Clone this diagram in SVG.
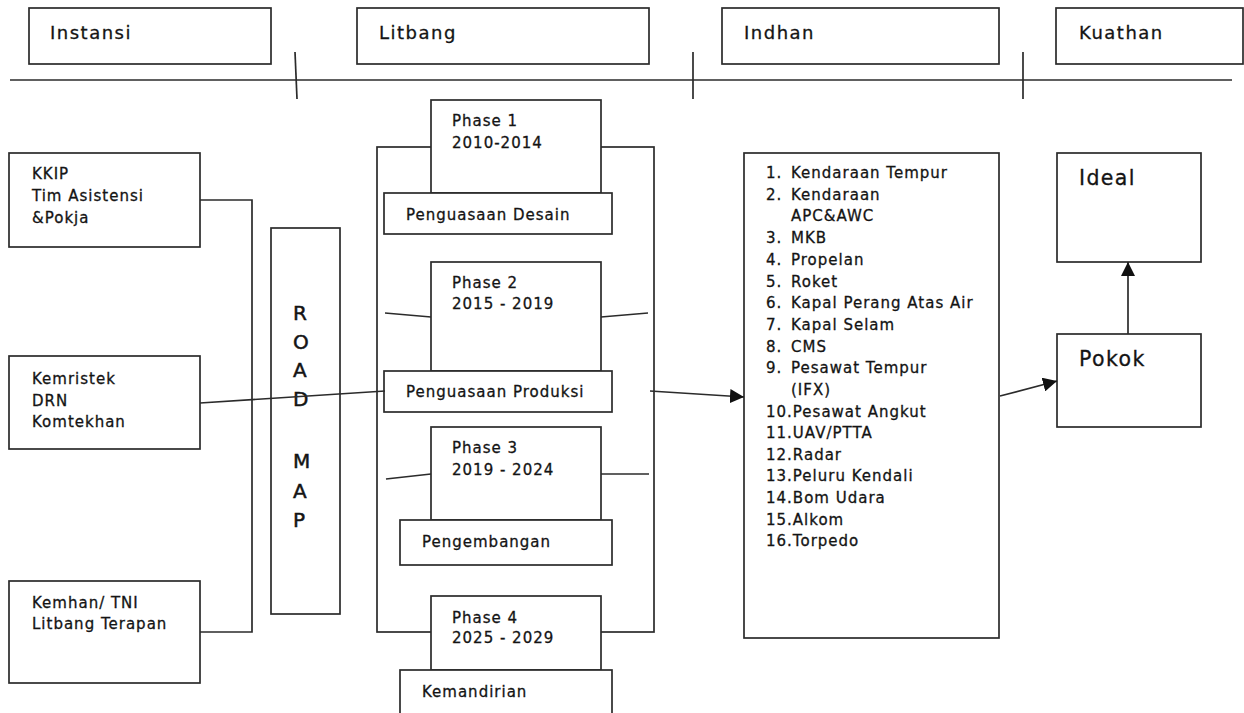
<svg xmlns="http://www.w3.org/2000/svg" width="1244" height="713" viewBox="0 0 1244 713">
<style>
.box{fill:#fff;stroke:#2b2b2b;stroke-width:1.7}
.frame{fill:none;stroke:#2b2b2b;stroke-width:1.7}
.ln{fill:none;stroke:#2b2b2b;stroke-width:1.7}
text{font-family:"DejaVu Sans","Liberation Sans",sans-serif;fill:#141414;stroke:#141414;stroke-width:0.3}
.hd{font-size:18px;letter-spacing:1.5px}
.t{font-size:15px;letter-spacing:1px}
.rm{font-size:20px;letter-spacing:0;stroke-width:0.5}
.big{font-size:20.5px;letter-spacing:1.4px}
</style>
<defs>
<marker id="ah" markerUnits="userSpaceOnUse" markerWidth="15" markerHeight="14" refX="14" refY="7" orient="auto">
<path d="M0,0 L14,7 L0,14 z" fill="#111"/>
</marker>
</defs>
<rect width="1244" height="713" fill="#fff"/>

<g id="timeline">
<line class="ln" x1="10" y1="80" x2="1232" y2="80"/>
<line class="ln" x1="295" y1="52" x2="297" y2="99"/>
<line class="ln" x1="693" y1="52" x2="693" y2="99"/>
<line class="ln" x1="1023" y1="52" x2="1023" y2="99"/>
</g>

<g id="hdr-instansi"><rect class="box" x="29" y="8" width="242" height="56"/><text class="hd" x="50" y="39">Instansi</text></g>
<g id="hdr-litbang"><rect class="box" x="357" y="8" width="292" height="56"/><text class="hd" x="379" y="39">Litbang</text></g>
<g id="hdr-indhan"><rect class="box" x="722" y="8" width="277" height="56"/><text class="hd" x="744" y="39">Indhan</text></g>
<g id="hdr-kuathan"><rect class="box" x="1056" y="8" width="187" height="56"/><text class="hd" x="1079" y="39">Kuathan</text></g>

<g id="kkip"><rect class="box" x="9" y="153" width="191" height="94"/>
<text class="t" x="32" y="179">KKIP</text><text class="t" x="32" y="201">Tim Asistensi</text><text class="t" x="32" y="223">&amp;Pokja</text></g>
<g id="kemristek"><rect class="box" x="9" y="356" width="191" height="93"/>
<text class="t" x="32" y="384">Kemristek</text><text class="t" x="32" y="406">DRN</text><text class="t" x="32" y="427">Komtekhan</text></g>
<g id="kemhan"><rect class="box" x="9" y="581" width="191" height="102"/>
<text class="t" x="32" y="608">Kemhan/ TNI</text><text class="t" x="32" y="629">Litbang Terapan</text></g>

<g id="roadmap"><rect class="box" x="271" y="228" width="69" height="386"/>
<text class="rm" x="293" y="320">R</text><text class="rm" x="293" y="349">O</text><text class="rm" x="293" y="377">A</text><text class="rm" x="293" y="406">D</text>
<text class="rm" x="293" y="468">M</text><text class="rm" x="293" y="498">A</text><text class="rm" x="293" y="527">P</text></g>

<g id="phase-frame"><rect class="frame" x="377" y="147" width="277" height="485"/></g>

<g id="phase1"><rect class="box" x="431" y="100" width="170" height="93"/>
<text class="t" x="452" y="126">Phase 1</text><text class="t" x="452" y="148">2010-2014</text></g>
<g id="desain"><rect class="box" x="384" y="193" width="228" height="41"/><text class="t" x="406" y="220">Penguasaan Desain</text></g>

<g id="phase2"><rect class="box" x="431" y="262" width="170" height="109"/>
<text class="t" x="452" y="288">Phase 2</text><text class="t" x="452" y="309">2015 - 2019</text></g>
<g id="produksi"><rect class="box" x="384" y="371" width="228" height="41"/><text class="t" x="406" y="397">Penguasaan Produksi</text></g>

<g id="phase3"><rect class="box" x="431" y="427" width="170" height="93"/>
<text class="t" x="452" y="453">Phase 3</text><text class="t" x="452" y="475">2019 - 2024</text></g>
<g id="pengembangan"><rect class="box" x="400" y="520" width="212" height="45"/><text class="t" x="422" y="547">Pengembangan</text></g>

<g id="phase4"><rect class="box" x="431" y="596" width="170" height="74"/>
<text class="t" x="452" y="623">Phase 4</text><text class="t" x="452" y="643">2025 - 2029</text></g>
<g id="kemandirian"><rect class="box" x="400" y="670" width="212" height="50"/><text class="t" x="422" y="697">Kemandirian</text></g>

<g id="indhan-list"><rect class="box" x="744" y="153" width="255" height="485"/>
<text class="t" x="766" y="178">1.</text><text class="t" x="791" y="178">Kendaraan Tempur</text>
<text class="t" x="766" y="200">2.</text><text class="t" x="791" y="200">Kendaraan</text>
<text class="t" x="791" y="221">APC&amp;AWC</text>
<text class="t" x="766" y="243">3.</text><text class="t" x="791" y="243">MKB</text>
<text class="t" x="766" y="265">4.</text><text class="t" x="791" y="265">Propelan</text>
<text class="t" x="766" y="287">5.</text><text class="t" x="791" y="287">Roket</text>
<text class="t" x="766" y="308">6.</text><text class="t" x="791" y="308">Kapal Perang Atas Air</text>
<text class="t" x="766" y="330">7.</text><text class="t" x="791" y="330">Kapal Selam</text>
<text class="t" x="766" y="352">8.</text><text class="t" x="791" y="352">CMS</text>
<text class="t" x="766" y="373">9.</text><text class="t" x="791" y="373">Pesawat Tempur</text>
<text class="t" x="791" y="395">(IFX)</text>
<text class="t" x="766" y="417">10.Pesawat Angkut</text>
<text class="t" x="766" y="438">11.UAV/PTTA</text>
<text class="t" x="766" y="460">12.Radar</text>
<text class="t" x="766" y="481">13.Peluru Kendali</text>
<text class="t" x="766" y="503">14.Bom Udara</text>
<text class="t" x="766" y="525">15.Alkom</text>
<text class="t" x="766" y="546">16.Torpedo</text>
</g>

<g id="ideal"><rect class="box" x="1057" y="153" width="144" height="109"/><text class="big" x="1079" y="185">Ideal</text></g>
<g id="pokok"><rect class="box" x="1057" y="334" width="144" height="93"/><text class="big" x="1079" y="366">Pokok</text></g>

<g id="connectors">
<polyline class="ln" points="200,200 252,200 252,632 200,632"/>
<line class="ln" x1="200" y1="403" x2="385" y2="391"/>
<line class="ln" x1="385" y1="313" x2="431" y2="317"/>
<line class="ln" x1="601" y1="317" x2="648" y2="313"/>
<line class="ln" x1="386" y1="479" x2="431" y2="474"/>
<line class="ln" x1="601" y1="474" x2="649" y2="474"/>
<line class="ln" x1="650" y1="391" x2="744" y2="397" marker-end="url(#ah)"/>
<line class="ln" x1="1000" y1="396" x2="1057" y2="381" marker-end="url(#ah)"/>
<line class="ln" x1="1128" y1="334" x2="1128" y2="262" marker-end="url(#ah)"/>
</g>
</svg>
